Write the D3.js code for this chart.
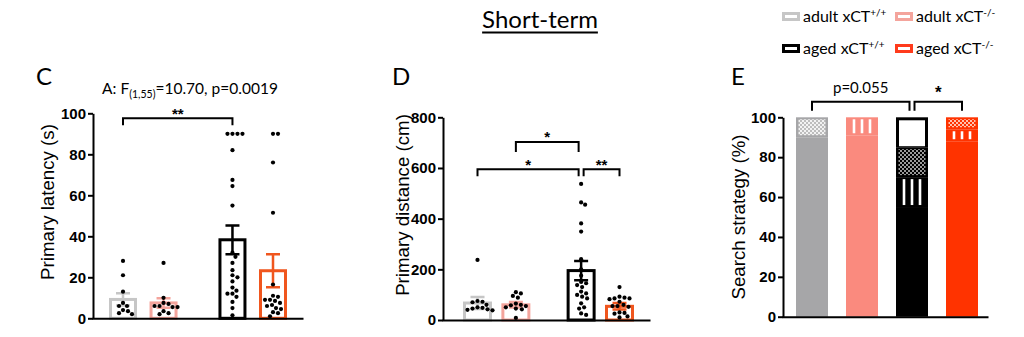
<!DOCTYPE html>
<html>
<head>
<meta charset="utf-8">
<script src="https://cdn.jsdelivr.net/npm/d3@7"></script>
<style>
  html, body { margin: 0; padding: 0; background: #fff; }
  svg { display: block; }
</style>
</head>
<body>
<svg id="chart" width="1024" height="337"></svg>
<script>
// ---------------- data ----------------
const titleText = "Short-term";
const groupBase = ["adult xCT", "adult xCT", "aged xCT", "aged xCT"];
const genotypeSup = ["+/+", "-/-", "+/+", "-/-"];

// Panel C: primary latency (s)
const latencyMean = [9.2, 7.5, 38.3, 23.2];
const latencySem = [3.0, 2.3, 7.0, 8.0];
const latencyPoints = [
  [28, 21, 13, 7.5, 6, 6, 4, 3.5, 2.5, 2],
  [27, 10, 7.5, 7, 6, 6, 5.5, 5.5, 3.5, 2.5, 2],
  [90, 90, 90, 90, 82, 67.5, 64.5, 55, 32, 30, 27, 23.5, 21, 20, 18, 15, 13.5, 12, 12, 10.5, 8, 5, 1.5],
  [90, 90, 76, 51.5, 16.5, 11, 10.5, 9, 9, 8.5, 7.5, 6.5, 6, 5, 4.5, 3, 2.5, 1]
];
const latencyTicks = [0, 20, 40, 60, 80, 100];
const latencyBrackets = [[0, 2, "**"]];

// Panel D: primary distance (cm)
const distanceMean = [67, 60, 195, 54];
const distanceSem = [24, 11, 38, 13];
const distancePoints = [
  [237, 75, 72, 70, 60, 50, 48, 45, 42, 40, 38],
  [110, 105, 95, 88, 65, 60, 58, 55, 50, 45, 42, 8],
  [537, 464, 455, 381, 349, 240, 200, 175, 150, 145, 138, 130, 112, 105, 99, 92, 85, 66, 50, 45, 26, 20],
  [130, 92, 88, 85, 85, 82, 72, 60, 55, 55, 52, 30, 28, 25, 14, 10]
];
const distanceTicks = [0, 200, 400, 600, 800];
const distanceBrackets = [[1, 2, "*"], [0, 2, "*"], [2, 3, "**"]];

// Panel E: search strategy (%)
const strategyKeys = ["direct", "serial", "mixed", "random"];
const strategyDirect = [90, 91, 55, 88];
const strategySerial = [0, 9, 15, 6];
const strategyMixed = [10, 0, 15, 6];
const strategyRandom = [0, 0, 15, 0];
const strategyTicks = [0, 20, 40, 60, 80, 100];
const strategyBrackets = [[0, 2, "p=0.055"], [2, 3, "*"]];

// ---------------- styling ----------------
const FONT_TXT = "Lato, 'Open Sans', sans-serif";
const FONT_AX = "'Liberation Sans', Arial, sans-serif";
const lineColors = ["#c6c6c6", "#f4a49c", "#000000", "#f0561e"];
const fillColors = ["#a6a6a8", "#fa8a7e", "#000000", "#ff3300"];
const legendColors = ["#c6c6c6", "#f4a49c", "#000000", "#ff3b1c"];
const checkColors = [["#bdbdbd", "#f2f2f2"], ["#fa8a7e", "#ffd8d2"], ["#000000", "#9a9a9a"], ["#ff3300", "#ffc2b0"]];
const slots = [0, 1, 2.7, 3.7];

const svg = d3.select("#chart");
const defs = svg.append("defs");

// ---------------- title ----------------
const title = svg.append("text")
  .attr("x", 540).attr("y", 28)
  .attr("text-anchor", "middle")
  .attr("font-family", FONT_TXT).attr("font-size", 24)
  .text(titleText);
const tb = title.node().getBBox();
svg.append("line")
  .attr("x1", tb.x).attr("x2", tb.x + tb.width)
  .attr("y1", 32.5).attr("y2", 32.5)
  .attr("stroke", "#000").attr("stroke-width", 1.8);

// ---------------- legend ----------------
const legendCols = [782, 895];
const legendRows = [17, 49];
groupBase.forEach((name, i) => {
  const col = i % 2, row = Math.floor(i / 2);
  const lx = legendCols[col], ly = legendRows[row];
  svg.append("rect")
    .attr("x", lx + 1.5).attr("y", ly - 3.5)
    .attr("width", 15).attr("height", 6)
    .attr("fill", "#fff").attr("stroke", legendColors[i]).attr("stroke-width", 3);
  const t = svg.append("text")
    .attr("x", lx + 21).attr("y", ly + 4.5)
    .attr("font-family", FONT_TXT).attr("font-size", 16);
  t.append("tspan").text(name);
  t.append("tspan").attr("dy", -6).attr("font-size", 10).text(genotypeSup[i]);
});

// ---------------- helpers ----------------
function styleAxis(sel) {
  sel.select(".domain").attr("stroke", "#000").attr("stroke-width", 2);
  sel.selectAll(".tick line").attr("stroke", "#000").attr("stroke-width", 2);
  sel.selectAll(".tick text")
    .attr("font-family", FONT_AX).attr("font-size", 15).attr("font-weight", "bold").attr("fill", "#000");
}

function drawAxes(g, y, ticks, axisX, axisEnd, baseY) {
  g.append("g")
    .attr("transform", `translate(${axisX},0)`)
    .call(d3.axisLeft(y).tickValues(ticks).tickSize(5).tickSizeOuter(0).tickPadding(2))
    .call(styleAxis);
  const xr = d3.scaleLinear().range([axisX - 1, axisEnd]);
  g.append("g")
    .attr("transform", `translate(0,${baseY})`)
    .call(d3.axisBottom(xr).tickValues([]).tickSizeOuter(0))
    .call(styleAxis);
}

function yLabel(g, text, x, yc) {
  g.append("text")
    .attr("transform", `translate(${x},${yc}) rotate(-90)`)
    .attr("text-anchor", "middle")
    .attr("font-family", FONT_AX).attr("font-size", 18.7)
    .text(text);
}

function panelLetter(g, letter, x) {
  g.append("text").attr("x", x).attr("y", 85)
    .attr("font-family", FONT_TXT).attr("font-size", 24).text(letter);
}

// Simple beeswarm: each value keeps its y, and is pushed sideways until it clears the others
function swarm(values, y, cx, minDist) {
  const placed = [];
  values.slice().sort((a, b) => b - a).forEach(v => {
    const yy = y(v);
    for (let k = 0; k < 80; k++) {
      const off = (k % 2 ? 1 : -1) * Math.ceil(k / 2);
      const xx = cx + off;
      if (placed.every(p => (p.x - xx) ** 2 + (p.y - yy) ** 2 >= minDist * minDist)) {
        placed.push({ x: xx, y: yy });
        break;
      }
    }
  });
  return placed;
}

function drawBrackets(g, list, xOf, y, levels, tickLens, labelFont, labelDy) {
  // ends shared by two brackets are nudged apart
  const starts = list.map(b => b[0]), ends = list.map(b => b[1]);
  list.forEach((b, i) => {
    let x1 = xOf(b[0]), x2 = xOf(b[1]);
    if (ends.includes(b[0])) x1 += 2.5;
    if (starts.includes(b[1])) x2 -= 2.5;
    const yb = y(levels[i]);
    const tl = tickLens[i];
    g.append("path")
      .attr("d", `M${x1},${yb + tl}V${yb}H${x2}V${yb + tl}`)
      .attr("fill", "none").attr("stroke", "#000").attr("stroke-width", 2);
    const isStar = /^\*+$/.test(b[2]);
    g.append("text")
      .attr("x", (x1 + x2) / 2).attr("y", yb + (isStar ? labelDy.star : labelDy.text))
      .attr("text-anchor", "middle")
      .attr("font-family", isStar ? FONT_AX : FONT_TXT)
      .attr("font-weight", isStar ? "bold" : "normal")
      .attr("font-size", isStar ? labelFont.star : labelFont.text)
      .text(b[2]);
  });
}

// Bar + SEM + individual points panel
function scatterBarPanel(cfg) {
  const g = svg.append("g");
  const y = d3.scaleLinear().domain([0, cfg.max]).range([cfg.baseY, cfg.topY]);
  const x = d3.scaleLinear().domain([0, slots[3]]).range([cfg.xFirst, cfg.xLast]);
  const xOf = i => x(slots[i]);
  const bw = cfg.barWidth;

  // bars
  g.selectAll("rect.bar").data(cfg.mean).join("rect")
    .attr("class", "bar")
    .attr("x", (d, i) => xOf(i) - bw / 2)
    .attr("y", d => y(d))
    .attr("width", bw)
    .attr("height", d => y(0) - y(d))
    .attr("fill", "#fff")
    .attr("stroke", (d, i) => lineColors[i])
    .attr("stroke-width", 3);

  // SEM error bars
  cfg.mean.forEach((m, i) => {
    const cx = xOf(i), s = cfg.sem[i], c = lineColors[i];
    const yHi = y(m + s), yLo = y(m - s);
    g.append("path")
      .attr("d", `M${cx},${yLo}V${yHi}M${cx - 7},${yHi}H${cx + 7}M${cx - 7},${yLo}H${cx + 7}`)
      .attr("fill", "none").attr("stroke", c).attr("stroke-width", 2.5);
  });

  // individual animals
  cfg.points.forEach((vals, i) => {
    g.selectAll(null).data(swarm(vals, y, xOf(i), 4.6)).join("circle")
      .attr("cx", d => d.x).attr("cy", d => d.y).attr("r", 2.1)
      .attr("fill", "#000");
  });

  drawAxes(g, y, cfg.ticks, cfg.axisX, cfg.axisEnd, cfg.baseY);
  yLabel(g, cfg.label, cfg.labelX, cfg.labelY);
  panelLetter(g, cfg.letter, cfg.letterX);
  drawBrackets(g, cfg.brackets, xOf, y, cfg.bracketLevels, cfg.bracketTicks,
    { star: 15, text: 15 }, { star: 0.5, text: -8 });
  return g;
}

// ---------------- panel C ----------------
const gC = scatterBarPanel({
  max: 100, baseY: 318.3, topY: 113.3,
  xFirst: 123, xLast: 273, barWidth: 25,
  axisX: 93, axisEnd: 303,
  mean: latencyMean, sem: latencySem, points: latencyPoints, ticks: latencyTicks,
  label: "Primary latency (s)", labelX: 54, labelY: 202,
  letter: "C", letterX: 36,
  brackets: latencyBrackets, bracketLevels: [97.6], bracketTicks: [7]
});

// ANOVA annotation
const ann = gC.append("text")
  .attr("x", 190).attr("y", 94)
  .attr("text-anchor", "middle")
  .attr("font-family", FONT_TXT).attr("font-size", 15.5);
ann.append("tspan").text("A: F");
ann.append("tspan").attr("dy", 4).attr("font-size", 10.5).text("(1,55)");
ann.append("tspan").attr("dy", -4).text("=10.70, p=0.0019");

// ---------------- panel D ----------------
scatterBarPanel({
  max: 800, baseY: 320, topY: 117.3,
  xFirst: 477.5, xLast: 619.5, barWidth: 26,
  axisX: 443, axisEnd: 650,
  mean: distanceMean, sem: distanceSem, points: distancePoints, ticks: distanceTicks,
  label: "Primary distance (cm)", labelX: 409, labelY: 205,
  letter: "D", letterX: 392,
  brackets: distanceBrackets, bracketLevels: [703, 595, 595], bracketTicks: [10, 7, 7]
});

// ---------------- panel E ----------------
(function () {
  const g = svg.append("g");
  const baseY = 316.7, topY = 117.3, axisX = 783, axisEnd = 988;
  const y = d3.scaleLinear().domain([0, 100]).range([baseY, topY]);
  const idx = d3.range(groupBase.length);
  const x = d3.scaleBand().domain(idx).range([787, 987]).paddingInner(0.36).paddingOuter(0.18);
  const bw = x.bandwidth();

  // checkerboard fills
  idx.forEach(i => {
    const p = defs.append("pattern")
      .attr("id", "check" + i).attr("patternUnits", "userSpaceOnUse")
      .attr("width", 4).attr("height", 4);
    p.append("rect").attr("width", 4).attr("height", 4).attr("fill", checkColors[i][1]);
    p.append("rect").attr("width", 2).attr("height", 2).attr("fill", checkColors[i][0]);
    p.append("rect").attr("x", 2).attr("y", 2).attr("width", 2).attr("height", 2).attr("fill", checkColors[i][0]);
  });

  const rows = idx.map(i => ({
    i, direct: strategyDirect[i], serial: strategySerial[i],
    mixed: strategyMixed[i], random: strategyRandom[i]
  }));
  const stacked = d3.stack().keys(strategyKeys)(rows);

  stacked.forEach(series => {
    series.forEach(d => {
      const i = d.data.i;
      if (d[1] - d[0] <= 0) return;
      const x0 = x(i), yTop = y(d[1]), yBot = y(d[0]);
      g.append("rect")
        .attr("x", x0).attr("y", yTop).attr("width", bw).attr("height", yBot - yTop)
        .attr("fill", fillColors[i]);
      if (series.key === "serial") {
        [-8, 0, 8].forEach(o => {
          g.append("rect")
            .attr("x", x0 + bw / 2 + o - 1.3).attr("y", yTop + 2)
            .attr("width", 2.6).attr("height", Math.max(0, yBot - yTop - 4))
            .attr("fill", "#fff");
        });
      } else if (series.key === "mixed") {
        g.append("rect")
          .attr("x", x0 + 2.5).attr("y", yTop + 2)
          .attr("width", bw - 5).attr("height", Math.max(0, yBot - yTop - 4))
          .attr("fill", `url(#check${i})`);
      } else if (series.key === "random") {
        g.append("rect")
          .attr("x", x0 + 3).attr("y", yTop + 3)
          .attr("width", bw - 6).attr("height", Math.max(0, yBot - yTop - 4))
          .attr("fill", "#fff");
      }
    });
  });

  drawAxes(g, y, strategyTicks, axisX, axisEnd, baseY);
  yLabel(g, "Search strategy (%)", 745, 217);
  panelLetter(g, "E", 731);
  drawBrackets(g, strategyBrackets, i => x(i) + bw / 2, y, [107.8, 107.8], [9, 9],
    { star: 17, text: 15 }, { star: -4, text: -8.5 });
})();
</script>
</body>
</html>
